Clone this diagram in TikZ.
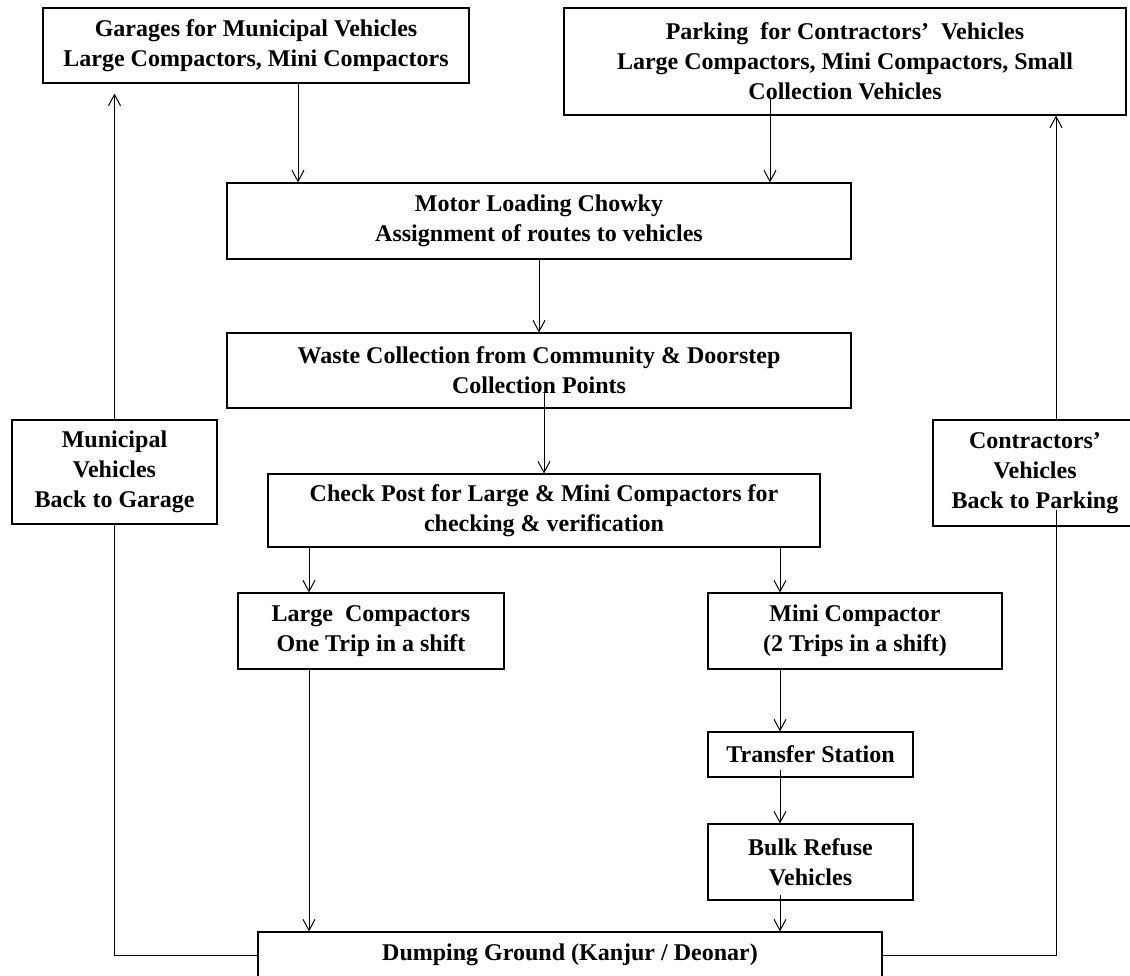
\documentclass[tikz,border=0pt]{standalone}
\usepackage{fontspec}
\setmainfont{Liberation Serif}
\usetikzlibrary{arrows.meta}
\begin{document}
\begin{tikzpicture}[x=1pt,y=-1pt,
  box/.style={draw, line width=1.2pt, inner sep=0pt, align=center,
    font=\bfseries\fontsize{24}{30}\selectfont},
  arr/.style={-{Straight Barb[length=11pt,width=12pt]}, line width=1pt},
  ln/.style={line width=1pt}]
\useasboundingbox (0,0) rectangle (1130,975);
\fill[white] (0,0) rectangle (1130,975);
% boxes
\node[box, minimum width=426pt, minimum height=75pt] (G) at (256,45.5)
  {Garages for Municipal Vehicles\\Large Compactors, Mini Compactors};
\node[box, minimum width=562pt, minimum height=107pt] (P) at (845,61.5)
  {Parking~ for Contractors’~ Vehicles\\Large Compactors, Mini Compactors, Small\\Collection Vehicles};
\node[box, minimum width=624pt, minimum height=76pt] (M) at (539,221)
  {Motor Loading Chowky\\Assignment of routes to vehicles};
\node[box, minimum width=624pt, minimum height=75pt] (W) at (539,370.5)
  {Waste Collection from Community \& Doorstep\\Collection Points};
\node[box, minimum width=552pt, minimum height=73pt] (C) at (544,510.5)
  {Check Post for Large \& Mini Compactors for\\checking \& verification};
\node[box, minimum width=266pt, minimum height=76pt] (L) at (371,631)
  {Large~ Compactors\\One Trip in a shift};
\node[box, minimum width=294pt, minimum height=76pt] (Mi) at (855,631)
  {Mini Compactor\\(2 Trips in a shift)};
\node[box, minimum width=205pt, minimum height=45pt] (T) at (810.5,754.5)
  {Transfer Station};
\node[box, minimum width=205pt, minimum height=76pt] (B) at (810.5,862)
  {Bulk Refuse\\Vehicles};
\node[box, minimum width=624pt, minimum height=46pt] (D) at (570,955)
  {Dumping Ground (Kanjur / Deonar)};
\node[box, minimum width=205pt, minimum height=104pt] (MV) at (114.5,472)
  {Municipal\\Vehicles\\Back to Garage};
\node[box, minimum width=204pt, minimum height=106pt] (CV) at (1035,473)
  {Contractors’\\Vehicles\\Back to Parking};
% guide coordinates
\coordinate (xg) at (298,0);
\coordinate (ps) at (770,98);
\coordinate (ws) at (544,393);
\coordinate (xl) at (309,0);
\coordinate (xr) at (780,0);
\coordinate (ts) at (780,770);
\coordinate (bs) at (780,895);
\coordinate (cs) at (1056,510);
% connectors
\draw[arr] (G.south -| xg) -- (M.north -| xg);
\draw[arr] (ps) -- (M.north -| ps);
\draw[arr] (M.south) -- (W.north);
\draw[arr] (ws) -- (C.north -| ws);
\draw[arr] (C.south -| xl) -- (L.north -| xl);
\draw[arr] (C.south -| xr) -- (Mi.north -| xr);
\draw[arr] (L.south -| xl) -- (D.north -| xl);
\draw[arr] (Mi.south -| xr) -- (T.north -| xr);
\draw[arr] (ts) -- (B.north -| ts);
\draw[arr] (bs) -- (D.north -| bs);
\draw[ln] (D.west) -| (MV.south);
\draw[arr, shorten >=10pt] (MV.north) -- (G.south -| MV.north);
\draw[ln] (D.east) -| (cs);
\draw[arr] (CV.north -| cs) -- (P.south -| cs);
\end{tikzpicture}
\end{document}
